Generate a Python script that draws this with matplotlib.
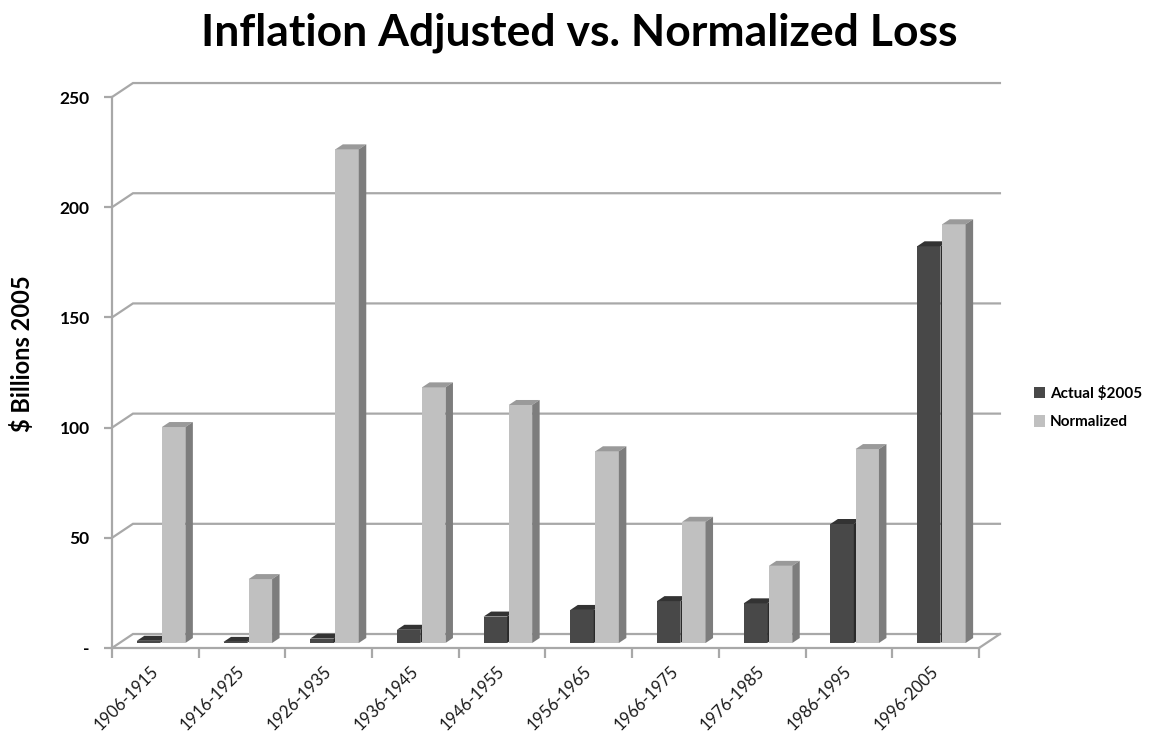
import matplotlib.pyplot as plt
from matplotlib.patches import Polygon, Patch

plt.rcParams['font.family'] = ['Lato', 'DejaVu Sans']

periods = ["1906-1915", "1916-1925", "1926-1935", "1936-1945", "1946-1955",
           "1956-1965", "1966-1975", "1976-1985", "1986-1995", "1996-2005"]
actual_2005 = [1, 0.5, 2, 6, 12, 15, 19, 18, 54, 180]
normalized = [98, 29, 224, 116, 108, 87, 55, 35, 88, 190]
y_ticks = [0, 50, 100, 150, 200, 250]
y_tick_labels = ["-", "50", "100", "150", "200", "250"]

# oblique "3D" offsets: depth 1 moves a point DX categories right and DY units up
DX, DY = 0.242, 6.35
D0, D1 = 0.357, 0.714   # front and back depth of the bars
BAR_W = 0.27
GRID = '#a8a8a8'

dark = dict(face='#484848', top='#333333', side='#2a2a2a')
light = dict(face='#c0c0c0', top='#9a9a9a', side='#7d7d7d')


def shift(x, y, d):
    return (x + d * DX, y + d * DY)


fig = plt.figure(figsize=(11.73, 7.36), dpi=100)
ax = fig.add_axes([112 / 1173, 88 / 736, 897.3 / 1173, 568.6 / 736])
ax.set_xlim(0, 10.35)
ax.set_ylim(0, 258)

n = len(periods)

# side wall diagonals and back wall gridlines
for v in y_ticks:
    ax.plot([0, DX, n + DX], [v, v + DY, v + DY], color=GRID, lw=1.6,
            zorder=1, clip_on=False, solid_joinstyle='miter')
# floor edges
ax.plot([n, n + DX], [0, DY], color=GRID, lw=1.6, zorder=1, clip_on=False)


def draw_bar(left, value, c, z):
    x0, y0 = shift(left, 0, D0)
    ax.bar(x0, value, width=BAR_W, bottom=y0, align='edge', color=c['face'],
           linewidth=0, zorder=z)
    r = left + BAR_W
    top = [shift(left, value, D0), shift(r, value, D0),
           shift(r, value, D1), shift(left, value, D1)]
    side = [shift(r, 0, D0), shift(r, 0, D1),
            shift(r, value, D1), shift(r, value, D0)]
    ax.add_patch(Polygon(top, closed=True, facecolor=c['top'], lw=0, zorder=z))
    ax.add_patch(Polygon(side, closed=True, facecolor=c['side'], lw=0, zorder=z))


for i in range(n):
    draw_bar(i + 0.2, actual_2005[i], dark, 3 + 2 * i)
    draw_bar(i + 0.49, normalized[i], light, 4 + 2 * i)

for s in ['top', 'right']:
    ax.spines[s].set_visible(False)
ax.spines['left'].set_bounds(0, 250)
ax.spines['bottom'].set_bounds(0, n)
for s in ['left', 'bottom']:
    ax.spines[s].set_color(GRID)
    ax.spines[s].set_linewidth(1.6)
    ax.spines[s].set_zorder(2)

ax.set_yticks(y_ticks)
ax.set_yticklabels(y_tick_labels, fontsize=12.5, fontweight='bold')
ax.tick_params(axis='y', length=6, width=1.6, color=GRID, pad=10)

ax.set_xticks(range(n + 1))
ax.set_xticklabels([])
ax.tick_params(axis='x', which='major', length=7, width=1.6, color=GRID)
ax.set_xticks([i + 0.5 for i in range(n)], minor=True)
ax.set_xticklabels(periods, minor=True, rotation=45, ha='right', va='center',
                   rotation_mode='anchor', fontsize=12, color='#1a1a1a')
ax.tick_params(axis='x', which='minor', length=0, pad=15)

fig.text(0.4936, 0.955, "Inflation Adjusted vs. Normalized Loss", ha='center',
         va='center', fontsize=32, fontweight='bold')
fig.text(0.0188, 0.519, "$ Billions 2005", rotation=90, ha='center',
         va='center', fontsize=17, fontweight='bold')

handles = [Patch(facecolor=dark['face'], label='Actual $2005'),
           Patch(facecolor=light['face'], label='Normalized')]
fig.legend(handles=handles, loc='upper left',
           bbox_to_anchor=(1020 / 1173, 1 - 372 / 736), frameon=False,
           handlelength=0.75, handleheight=0.75, handletextpad=0.3,
           labelspacing=0.95, prop=dict(size=11, weight='bold'))

fig.savefig('out.png', dpi=100)
